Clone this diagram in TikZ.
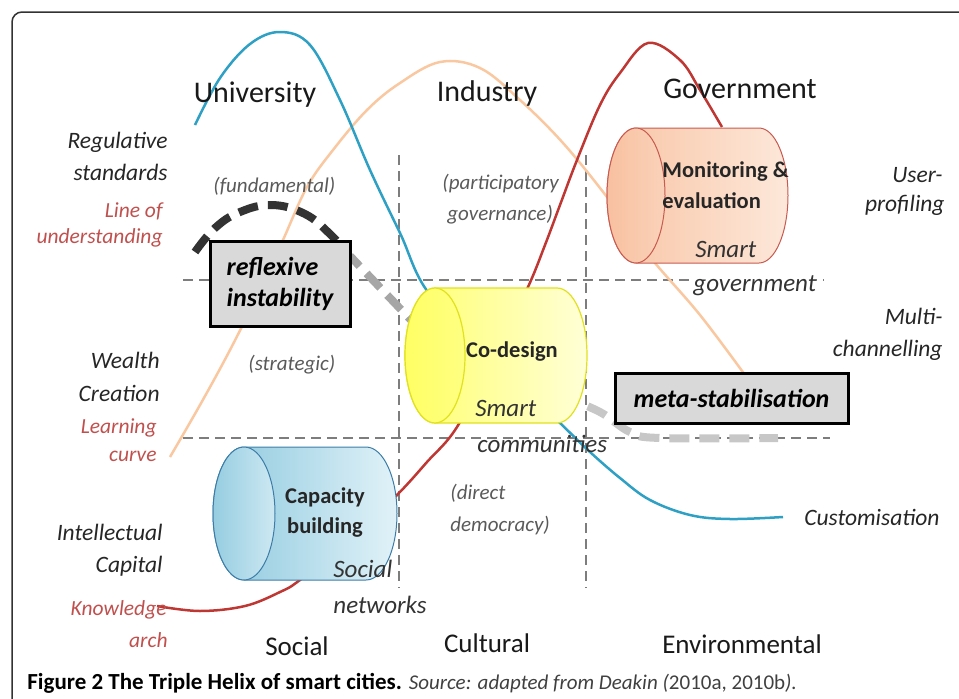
\documentclass[tikz,border=0pt]{standalone}
\usepackage{fontspec}
\setmainfont{Carlito}
\usepackage{tikz}
\usetikzlibrary{positioning}
\definecolor{helixblue}{RGB}{46,160,196}
\definecolor{helixpeach}{RGB}{250,200,160}
\definecolor{helixred}{RGB}{190,55,50}
\definecolor{labelred}{RGB}{192,80,77}
\definecolor{notegray}{RGB}{90,90,90}
\definecolor{gridgray}{RGB}{125,125,125}
\definecolor{framegray}{RGB}{50,50,50}
\definecolor{monline}{RGB}{200,90,80}
\definecolor{codline}{RGB}{225,225,30}
\definecolor{capline}{RGB}{60,125,168}

\begin{document}
\begin{tikzpicture}[x=1pt, y=-1pt, thick]
\tikzset{heading/.style={font=\fontsize{30}{36}\selectfont, text=black!90, anchor=base, inner sep=0},
  sector/.style={font=\fontsize{27}{32}\selectfont, text=black!90, anchor=base, inner sep=0},
  leftlbl/.style={font=\fontsize{23.5}{28}\selectfont\itshape, text=black!85, anchor=base east, inner sep=0},
  redlbl/.style={font=\fontsize{21.5}{26}\selectfont\itshape, text=labelred, anchor=base east, inner sep=0},
  note/.style={font=\fontsize{21}{26}\selectfont\itshape, text=notegray, anchor=base west, inner sep=0},
  drumtext/.style={font=\fontsize{22.5}{27}\selectfont\bfseries, text=black!85, inner sep=0},
  drumsub/.style={font=\fontsize{25}{30}\selectfont\itshape, text=black!80, anchor=base west, inner sep=0},
  tensionbox/.style={draw=black, line width=3pt, fill=black!15, inner sep=0, align=left,
    font=\fontsize{26}{31}\selectfont\bfseries\itshape},
  grid line/.style={gridgray, dash pattern=on 10pt off 6pt, line width=1.8pt},
  helix/.style={line width=2.5pt},
  wave/.style={line width=8pt, dash pattern=on 20pt off 10pt}}
\useasboundingbox (0,0) rectangle (959,699);
% frame
\draw[framegray, line width=1.5pt, rounded corners=10pt] (12,705) -- (12,12) -- (965,12);
% quadrants
\draw[grid line] (183,280) -- (824,280);
\draw[grid line] (183,438) -- (830,438);
\draw[grid line] (399,155) -- (399,588);
\draw[grid line] (586,155) -- (586,588);
% the three helices
\draw[helix, helixpeach] plot[smooth, tension=0.6] coordinates {(170,457) (200,405) (230,350) (260,290) (283,240) (307,187) (333,150) (367,110) (400,83) (440,62) (480,68) (520,100) (563,143) (607,197) (630,230) (655,263) (700,315) (745,375)};
\draw[helix, helixblue] plot[smooth, tension=0.6] coordinates {(195,125) (220,78) (250,44) (280,32) (310,45) (340,100) (370,170) (400,233) (430,295) (500,365) (560,423) (590,452) (620,478) (650,500) (690,515) (730,519) (783,517)};
\draw[helix, helixred] plot[smooth, tension=0.6] coordinates {(157,606) (200,611) (245,606) (280,592) (300,580) (350,540) (397,495) (427,462) (457,427) (495,355) (528,287) (545,245) (560,205) (577,160) (600,105) (620,73) (648,43) (680,60) (700,90) (722,127)};
% reflexive / meta-stable arc
\draw[wave, black!80] plot[smooth, tension=0.7] coordinates {(195,252) (215,228) (240,212) (272,205) (305,214) (330,234) (348,254)};
\draw[wave, black!35, dash phase=6pt] (350,256) -- (430,340);
\draw[wave, black!22] plot[smooth, tension=0.6] coordinates {(560,395) (600,412) (630,432) (660,438) (778,438)};
% drums
\draw[monline, line width=1pt, left color={rgb,255:red,248;green,196;blue,164}, right color={rgb,255:red,253;green,232;blue,218}]
  (636,128) -- (759,128) arc[start angle=-90, end angle=90, x radius=29, y radius=67.5]
  -- (636,263) arc[start angle=90, end angle=270, x radius=29, y radius=67.5] -- cycle;
\draw[monline, line width=1pt, left color={rgb,255:red,248;green,192;blue,160}, right color={rgb,255:red,250;green,210;blue,185}]
  (636,195.5) ellipse[x radius=29, y radius=67.5];
\draw[codline, line width=1.2pt, left color={rgb,255:red,255;green,255;blue,110}, right color={rgb,255:red,255;green,255;blue,215}]
  (435,288) -- (557,288) arc[start angle=-90, end angle=90, x radius=30, y radius=67.5]
  -- (435,423) arc[start angle=90, end angle=270, x radius=30, y radius=67.5] -- cycle;
\draw[codline, line width=1.2pt, left color={rgb,255:red,255;green,255;blue,100}, right color={rgb,255:red,255;green,255;blue,130}]
  (435,355.5) ellipse[x radius=30, y radius=67.5];
\draw[capline, line width=1pt, left color={rgb,255:red,140;green,200;blue,222}, right color={rgb,255:red,225;green,242;blue,248}]
  (244,447) -- (366,447) arc[start angle=-90, end angle=90, x radius=31, y radius=66.5]
  -- (244,580) arc[start angle=90, end angle=270, x radius=31, y radius=66.5] -- cycle;
\draw[capline, line width=1pt, left color={rgb,255:red,150;green,205;blue,225}, right color={rgb,255:red,205;green,232;blue,242}]
  (244,513.5) ellipse[x radius=31, y radius=66.5];
% tension boxes
\node[tensionbox, minimum width=140pt, minimum height=85pt] (refl) at (280,283.5) {reflexive\\instability};
\node[tensionbox, minimum width=233pt, minimum height=50pt] (meta) at (731.5,398) {meta-stabilisation};
% helix spheres
\node[heading] (univ) at (255,102) {University};
\node[heading] (ind) at (487,101) {Industry};
\node[heading] (gov) at (740,98) {Government};
\node[sector] (soc) at (297,655) {Social};
\node[sector] (cult) at (487,652) {Cultural};
\node[sector] (env) at (742,653) {Environmental};
% left side
\node[leftlbl] (reg1) at (168,148) {Regulative};
\node[leftlbl] (reg2) at (168,180) {standards};
\node[redlbl] (und1) at (163,217) {Line of};
\node[redlbl] (und2) at (163,243) {understanding};
\node[leftlbl] (wea1) at (160,368) {Wealth};
\node[leftlbl] (wea2) at (160,401) {Creation};
\node[redlbl] (lea1) at (157,433) {Learning};
\node[redlbl] (lea2) at (157,461) {curve};
\node[leftlbl] (int1) at (163,540) {Intellectual};
\node[leftlbl] (int2) at (163,572) {Capital};
\node[redlbl] (kno1) at (167,615) {Knowledge};
\node[redlbl] (kno2) at (168,647) {arch};
% right side
\node[leftlbl] (usr1) at (943,182) {User-};
\node[leftlbl] (usr2) at (945,211) {profiling};
\node[leftlbl] (mul1) at (943,324) {Multi-};
\node[leftlbl] (mul2) at (943,356) {channelling};
\node[leftlbl] (cus) at (940,525) {Customisation};
% quadrant notes
\node[note] (fund) at (213,192) {(fundamental)};
\node[note] (part1) at (442,189) {(participatory};
\node[note] (part2) at (447,220) {governance)};
\node[note] (strat) at (248,370) {(strategic)};
\node[note] (dir1) at (450,499) {(direct};
\node[note] (dir2) at (450,531) {democracy)};
% drum texts
\node[drumtext, anchor=base west] (mon1) at (662,177) {Monitoring \&};
\node[drumtext, anchor=base west] (mon2) at (662,208) {evaluation};
\node[drumsub] (mon3) at (695,257) {Smart};
\node[drumsub, fill=white] (mon4) at (693,291) {government};
\node[drumtext, anchor=base] (cod1) at (512,357) {Co-design};
\node[drumsub] (cod2) at (475,416) {Smart};
\node[drumsub] (cod3) at (477,452) {communities};
\node[drumtext, anchor=base] (cap1) at (325,503) {Capacity};
\node[drumtext, anchor=base] (cap2) at (325,533) {building};
\node[drumsub] (cap3) at (333,577) {Social};
\node[drumsub] (cap4) at (333,613) {networks};
% caption
\node[anchor=base west, inner sep=0, font=\fontsize{23}{27}\selectfont] (figcap) at (27,689)
  {\textbf{Figure 2 The Triple Helix of smart cities.} {\fontsize{21}{25}\selectfont\color{black!75}\itshape Source: adapted from Deakin (}{\fontsize{21}{25}\selectfont\color{black!75}2010a, 2010b}{\fontsize{21}{25}\selectfont\color{black!75}\itshape).}};
\end{tikzpicture}
\end{document}
